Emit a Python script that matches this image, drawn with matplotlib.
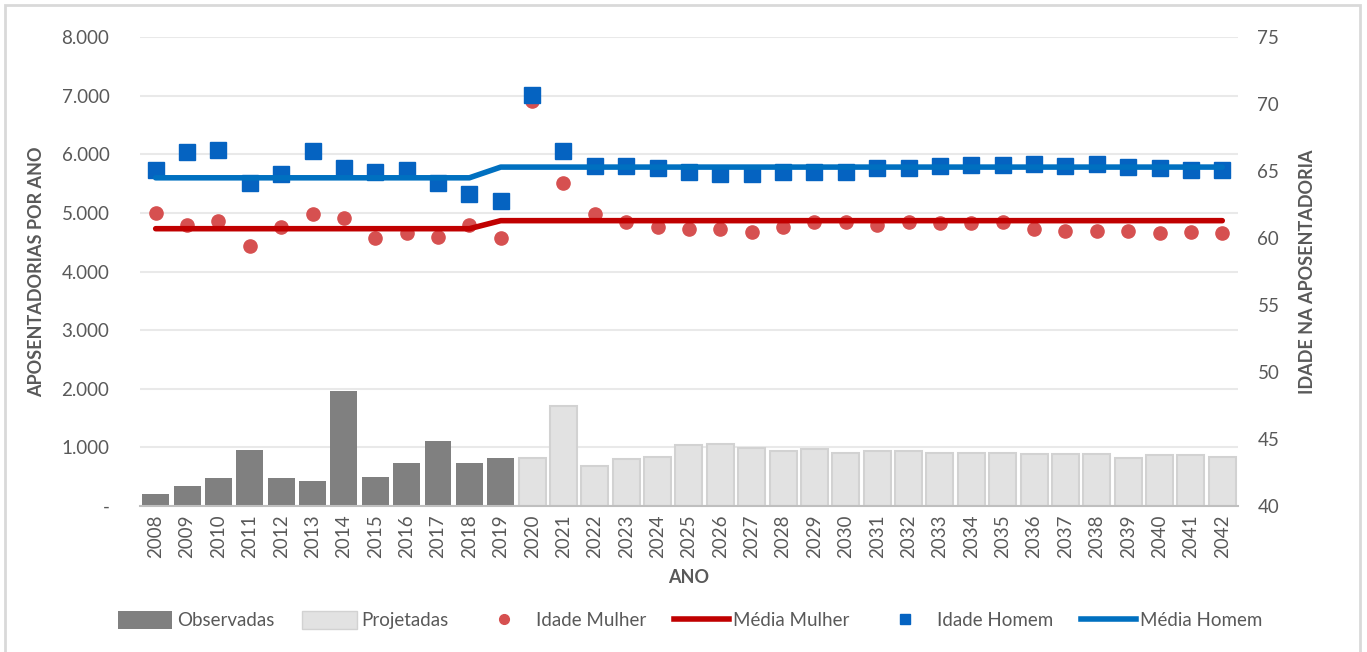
import matplotlib.pyplot as plt
from matplotlib.patches import Rectangle, Patch
from matplotlib.lines import Line2D

plt.rcParams['font.family'] = ['Lato', 'DejaVu Sans']

anos = [str(a) for a in range(2008, 2043)]
n_obs = 12  # 2008-2019 observadas, 2020-2042 projetadas

aposentadorias = [200, 340, 470, 950, 470, 430, 1960, 500, 740, 1110, 740, 820,
                  810, 1710, 690, 800, 840, 1040, 1060, 990, 930, 970, 910, 930,
                  930, 910, 910, 910, 890, 890, 890, 820, 870, 870, 840]

idade_mulher = [61.9, 61.0, 61.3, 59.4, 60.8, 61.8, 61.5, 60.0, 60.4, 60.05, 61.0, 60.0,
                70.2, 64.1, 61.8, 61.2, 60.8, 60.65, 60.65, 60.45, 60.8, 61.2, 61.2, 61.0,
                61.2, 61.1, 61.1, 61.2, 60.7, 60.5, 60.5, 60.5, 60.35, 60.45, 60.35]
idade_homem = [65.1, 66.4, 66.6, 64.1, 64.8, 66.5, 65.2, 64.9, 65.1, 64.1, 63.3, 62.8,
               70.7, 66.5, 65.4, 65.4, 65.2, 64.9, 64.8, 64.8, 64.9, 64.9, 64.9, 65.2,
               65.2, 65.4, 65.45, 65.45, 65.5, 65.4, 65.5, 65.3, 65.2, 65.1, 65.1]
media_mulher = [60.7] * 11 + [61.3] * 24
media_homem = [64.5] * 11 + [65.3] * 24

gray_txt = '#595959'
x = list(range(len(anos)))

fig = plt.figure(figsize=(13.67, 6.52), dpi=100)
ax = fig.add_axes([0.1024, 0.224, 0.8032, 0.719])
ax2 = ax.twinx()

# bars
ax.bar(x[:n_obs], aposentadorias[:n_obs], width=0.86, color='#808080', zorder=2)
ax.bar(x[n_obs:], aposentadorias[n_obs:], width=0.86, color='#e2e2e2',
       edgecolor='#d2d2d2', linewidth=1.5, zorder=2)

ax.set_xlim(-0.5, len(anos) - 0.5)
ax.set_ylim(0, 8000)
ax.set_yticks(range(0, 8001, 1000))
ax.set_yticklabels(['-'] + [f'{v:,}'.replace(',', '.') for v in range(1000, 8001, 1000)])
ax.set_xticks(x)
ax.set_xticklabels(anos, rotation=90)
ax.grid(axis='y', color='#e9e9e9', linewidth=1.5, zorder=0)
ax.set_axisbelow(True)

# lines on right axis
ax2.plot(x, idade_mulher, 'o', color='#d65050', markersize=9.5, zorder=3)
ax2.plot(x, media_mulher, '-', color='#c00000', linewidth=4, solid_capstyle='round', zorder=4)
ax2.plot(x, idade_homem, 's', color='#0563c1', markersize=11, zorder=5)
ax2.plot(x, media_homem, '-', color='#0070c0', linewidth=4, solid_capstyle='round', zorder=6)
ax2.set_ylim(40, 75)
ax2.set_yticks(range(40, 76, 5))

for a in (ax, ax2):
    for s in a.spines.values():
        s.set_visible(False)
    a.tick_params(length=0, labelsize=13.5, colors=gray_txt)
ax.spines['bottom'].set_visible(True)
ax.spines['bottom'].set_color('#bfbfbf')
ax.spines['bottom'].set_linewidth(1.5)
ax.tick_params(axis='y', pad=22)
ax.tick_params(axis='x', pad=6)
ax2.tick_params(axis='y', pad=14)

ax.set_xlabel('ANO', fontsize=13, fontweight='bold', color=gray_txt, labelpad=8)
ax.set_ylabel('APOSENTADORIAS POR ANO', fontsize=13, fontweight='bold', color=gray_txt, labelpad=12)
ax2.set_ylabel('IDADE NA APOSENTADORIA', fontsize=13, fontweight='bold', color=gray_txt, labelpad=14)

handles = [
    Patch(facecolor='#808080', label='Observadas'),
    Patch(facecolor='#e2e2e2', edgecolor='#d2d2d2', label='Projetadas'),
    Line2D([], [], marker='o', linestyle='none', color='#d65050', markersize=7, label='Idade Mulher'),
    Line2D([], [], color='#c00000', linewidth=4, label='Média Mulher'),
    Line2D([], [], marker='s', linestyle='none', color='#0563c1', markersize=7, label='Idade Homem'),
    Line2D([], [], color='#0070c0', linewidth=4, label='Média Homem'),
]
leg = fig.legend(handles=handles, loc='center', bbox_to_anchor=(0.505, 0.049), ncol=6,
                 frameon=False, fontsize=13.5, handlelength=2.9, handleheight=1.1,
                 handletextpad=0.25, columnspacing=1.5)
for t in leg.get_texts():
    t.set_color(gray_txt)

# chart frame
fig.patches.append(Rectangle((0.004, -0.01), 0.991, 1.002, transform=fig.transFigure,
                             fill=False, edgecolor='#d9d9d9', linewidth=2))

fig.savefig('out.png', dpi=100)
